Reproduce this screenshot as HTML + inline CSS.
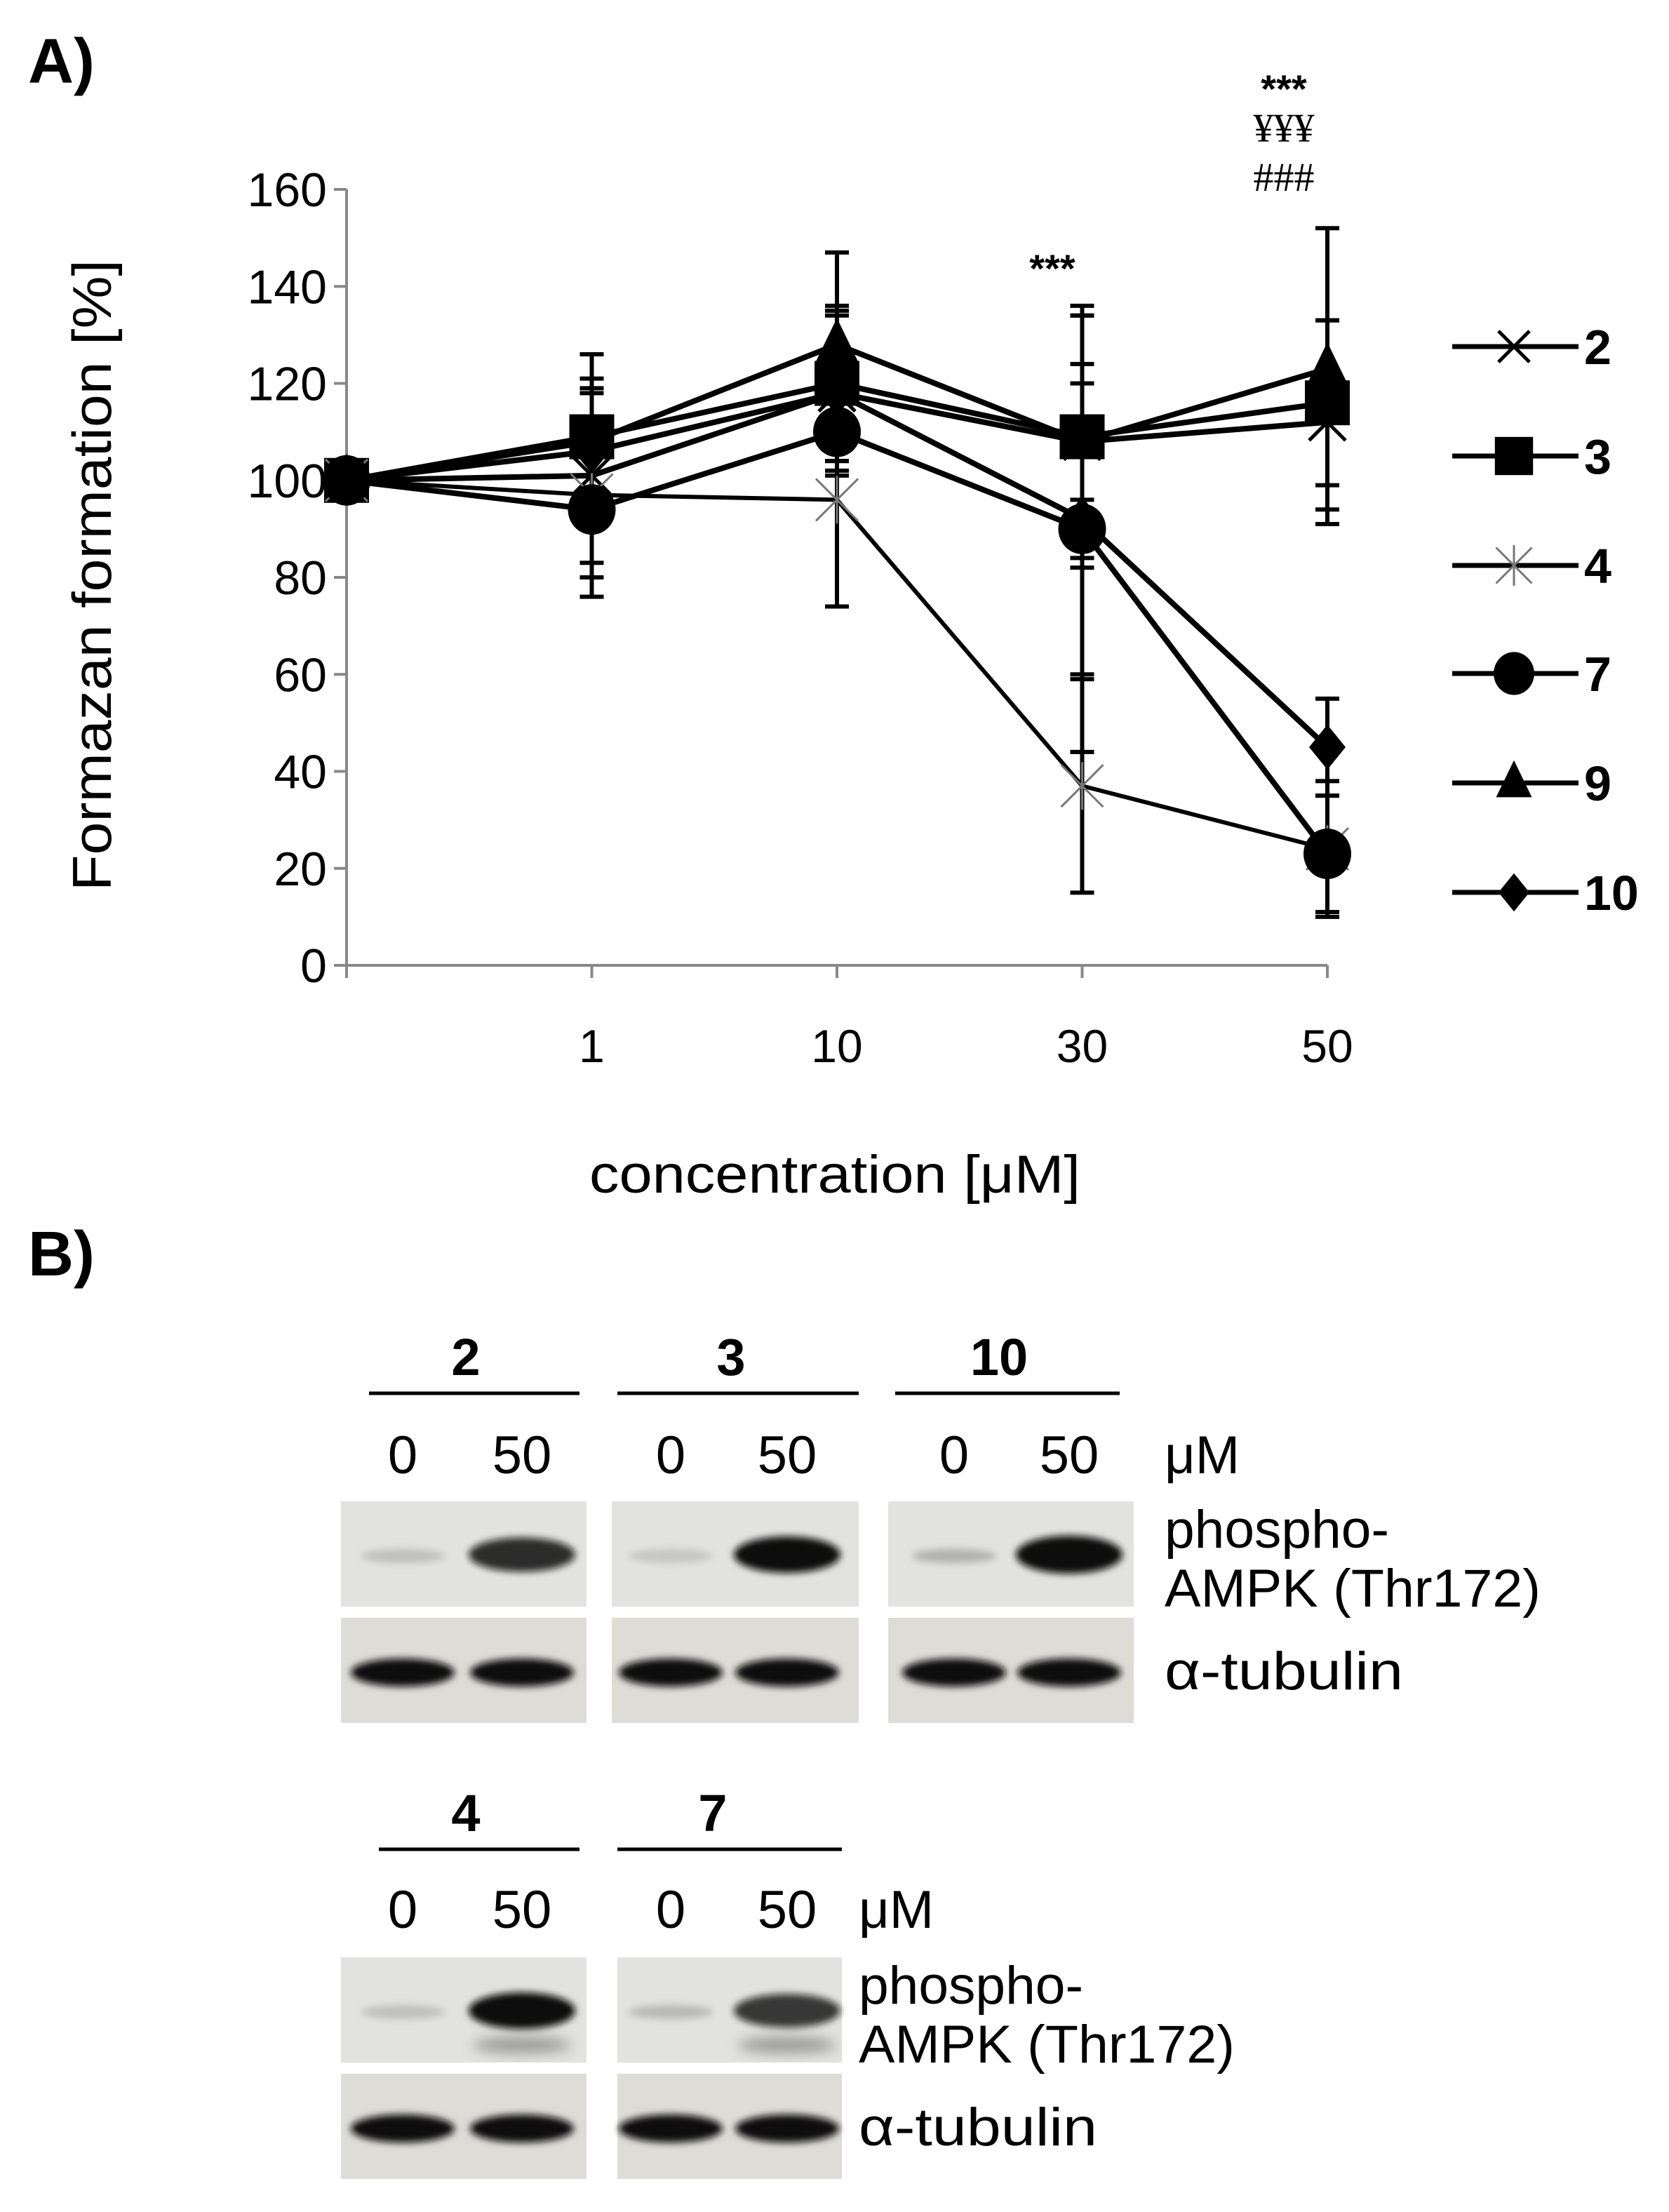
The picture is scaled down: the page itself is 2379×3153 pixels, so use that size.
<!DOCTYPE html>
<html><head><meta charset="utf-8"><style>
html,body{margin:0;padding:0;background:#fff}
svg{display:block}
text{font-family:"Liberation Sans",sans-serif}
</style></head><body>
<svg id="fig" width="2379" height="3153" viewBox="0 0 2379 3153" xmlns="http://www.w3.org/2000/svg">
<defs><filter id="blur" x="-20%" y="-50%" width="140%" height="200%"><feGaussianBlur stdDeviation="5"/></filter>
<filter id="blur2" x="-20%" y="-50%" width="140%" height="200%"><feGaussianBlur stdDeviation="9"/></filter></defs>
<text x="40" y="118" font-size="90" font-weight="bold">A)</text>
<g id="chart"></g>
<text x="840" y="1700" font-size="76" textLength="700" lengthAdjust="spacingAndGlyphs">concentration [μM]</text>
<text transform="translate(158,820) rotate(-90)" font-size="78" text-anchor="middle" textLength="900" lengthAdjust="spacingAndGlyphs">Formazan formation [%]</text>
<text x="1500" y="402" font-size="56" font-weight="bold" text-anchor="middle">***</text>
<text x="1830" y="146" font-size="56" font-weight="bold" text-anchor="middle">***</text>
<text x="1830" y="202" font-size="58" text-anchor="middle" style="font-family:'Liberation Serif',serif">¥¥¥</text>
<text x="1830" y="272" font-size="58" text-anchor="middle" style="font-family:'Liberation Serif',serif">###</text>

<text x="40" y="1818" font-size="90" font-weight="bold">B)</text>
<g id="blots"></g>
</svg>
<script>
const categories=["0","1","10","30","50"];
const yTicks=[0,20,40,60,80,100,120,140,160];
const seriesNames=["2","3","4","7","9","10"];
const s2=[100,101,118,108,112];
const s3=[100,109,120,109,116];
const s4=[100,97,96,37,24];
const s7=[100,94,110,90,23];
const s9=[100,108,128,108,123];
const s10=[100,106,118,92,45];
const e2=[0,18,16,12,21];
const e3=[0,17,16,25,17];
const e4=[0,21,22,22,14];
const e7=[0,14,6,46,12];
const e9=[0,18,19,26,29];
const e10=[0,15,17,32,10];

const NS="http://www.w3.org/2000/svg";
const chart=document.getElementById('chart');
const X0=494,XS=349.5,Y0=1376,YTOP=270;
const xs=i=>X0+i*XS;
const ys=v=>Y0-(v/160)*(Y0-YTOP);
function mk(tag,attrs,parent){const e=document.createElementNS(NS,tag);for(const k in attrs)e.setAttribute(k,attrs[k]);(parent||chart).appendChild(e);return e;}

const yax=mk('line',{x1:X0,y1:YTOP,x2:X0,y2:Y0,stroke:'#888','stroke-width':4});


const xax=mk('line',{x1:X0,y1:Y0,x2:xs(4),y2:Y0,stroke:'#888','stroke-width':4});


yTicks.forEach(t=>{
  const tk=mk('line',{x1:X0-18,y1:ys(t),x2:X0,y2:ys(t),stroke:'#888','stroke-width':4});
  
  
  const lb=mk('text',{x:X0-28,y:ys(t)+24,'font-size':68,'text-anchor':'end'});
  lb.textContent=t;
  
  
});
categories.forEach((c,i)=>{
  const tk=mk('line',{x1:xs(i),y1:Y0,x2:xs(i),y2:Y0+18,stroke:'#888','stroke-width':4});
  
  
  if(i>0){const lb=mk('text',{x:xs(i),y:1514,'font-size':66,'text-anchor':'middle'});
  lb.textContent=c;
  
  }
});

function marker(type,x,y,g,scale){
  const s=scale||1;
  if(type==='x'){mk('path',{d:`M${x-26*s} ${y-26*s}L${x+26*s} ${y+26*s}M${x-26*s} ${y+26*s}L${x+26*s} ${y-26*s}`,stroke:'#000','stroke-width':5},g);}
  else if(type==='square'){mk('rect',{x:x-32*s,y:y-32*s,width:64*s,height:64*s,fill:'#000'},g);}
  else if(type==='star'){mk('path',{d:`M${x-30*s} ${y-30*s}L${x+30*s} ${y+30*s}M${x-30*s} ${y+30*s}L${x+30*s} ${y-30*s}M${x} ${y-34*s}L${x} ${y+34*s}`,stroke:'#777','stroke-width':3},g);}
  else if(type==='circle'){mk('ellipse',{cx:x,cy:y,rx:34*s,ry:36*s,fill:'#000'},g);}
  else if(type==='triangle'){mk('path',{d:`M${x} ${y-38*s}L${x+30*s} ${y+24*s}L${x-30*s} ${y+24*s}Z`,fill:'#000'},g);}
  else if(type==='diamond'){mk('path',{d:`M${x} ${y-32*s}L${x+26*s} ${y}L${x} ${y+32*s}L${x-26*s} ${y}Z`,fill:'#000'},g);}
}
const series=[[s2,e2,'x',8],[s3,e3,'square',8],[s4,e4,'star',6],[s7,e7,'circle',8],[s9,e9,'triangle',8],[s10,e10,'diamond',8]];
series.forEach((s,k)=>{
  const g=mk('g',{});
  
  
  s[0].forEach((v,i)=>{ if(!s[1][i])return;
    const x=xs(i),a=ys(v+s[1][i]),b=ys(v-s[1][i]);
    mk('path',{d:`M${x} ${a}L${x} ${b}M${x-17} ${a}L${x+17} ${a}M${x-17} ${b}L${x+17} ${b}`,stroke:'#000','stroke-width':6,fill:'none'},g);
  });
});
series.forEach((s,k)=>{
  const g=mk('g',{});
  
  
  const pts=s[0].map((v,i)=>xs(i)+','+ys(v)).join(' ');
  mk('polyline',{points:pts,fill:'none',stroke:'#000','stroke-width':s[3],'stroke-linejoin':'round'},g);
  s[0].forEach((v,i)=>marker(s[2],xs(i),ys(v),g));
});
const legY=[494,650,806,960,1116,1272];
series.forEach((s,k)=>{
  const g=mk('g',{});
  
  
  mk('line',{x1:2070,y1:legY[k],x2:2250,y2:legY[k],stroke:'#000','stroke-width':7},g);
  marker(s[2],2158,legY[k],g,0.85);
  const t=mk('text',{x:2258,y:legY[k]+25,'font-size':70,'font-weight':'bold'},g);
  t.textContent=seriesNames[k];
});

const blots=document.getElementById('blots');
function bt(txt,x,y,size,opts,name){const t=mk('text',Object.assign({x:x,y:y,'font-size':size},opts||{}),blots);t.textContent=txt;return t;}
const groups=[
 {n:'2',cx:664,l:[526,826],row:0,px:486,pw:350,lanes:[574,744],p:[0.25,0.85]},
 {n:'3',cx:1042,l:[880,1224],row:0,px:872,pw:352,lanes:[956,1122],p:[0.2,1]},
 {n:'10',cx:1424,l:[1276,1596],row:0,px:1266,pw:350,lanes:[1360,1524],p:[0.35,1.1]},
 {n:'4',cx:664,l:[540,826],row:1,px:486,pw:350,lanes:[574,744],p:[0.25,1]},
 {n:'7',cx:1016,l:[880,1200],row:1,px:880,pw:320,lanes:[956,1122],p:[0.3,0.8]}
];
const rows=[{gy:1960,ly:1986,ny:2100,py:2140,ty:2306,mx:1660},{gy:2610,ly:2636,ny:2748,py:2790,ty:2956,mx:1224}];
groups.forEach(g=>{
  const r=rows[g.row];
  bt(g.n,g.cx,r.gy,74,{'font-weight':'bold','text-anchor':'middle'},'blot-group-label-'+g.n);
  const ln=mk('line',{x1:g.l[0],y1:r.ly,x2:g.l[1],y2:r.ly,stroke:'#000','stroke-width':5},blots);
  
  
  bt('0',g.lanes[0],r.ny,76,{'text-anchor':'middle'},'dose-label');
  bt('50',g.lanes[1],r.ny,76,{'text-anchor':'middle'},'dose-label');
  const pr=mk('rect',{x:g.px,y:r.py,width:g.pw,height:150,fill:'#e2e2e0'},blots);
  
  
  const tr=mk('rect',{x:g.px,y:r.ty,width:g.pw,height:150,fill:'#dddcd7'},blots);
  
  
  mk('ellipse',{cx:g.lanes[0],cy:r.py+78,rx:60,ry:10,fill:'#000',opacity:g.p[0]*0.6,filter:'url(#blur)'},blots);
  mk('ellipse',{cx:g.lanes[1],cy:r.py+76,rx:76,ry:16+10*g.p[1],fill:'#111',opacity:Math.min(1,g.p[1]),filter:'url(#blur)'},blots);
  if(g.row===1) mk('ellipse',{cx:g.lanes[1],cy:r.py+125,rx:70,ry:12,fill:'#555',opacity:0.5,filter:'url(#blur2)'},blots);
  g.lanes.forEach(lx=>mk('ellipse',{cx:lx,cy:r.ty+78,rx:74,ry:20,fill:'#111',filter:'url(#blur)'},blots));
});
rows.forEach((r,i)=>{
  bt('μM',r.mx,r.ny,76,{},'unit-label');
  bt('phospho-',r.mx,r.py+66,76,{textLength:320,lengthAdjust:'spacingAndGlyphs'},'phospho-label');
  bt('AMPK (Thr172)',r.mx,r.py+150,76,{textLength:536,lengthAdjust:'spacingAndGlyphs'},'ampk-label');
  bt('α-tubulin',r.mx,r.ty+102,76,{textLength:340,lengthAdjust:'spacingAndGlyphs'},'tubulin-label');
});
</script>
</body></html>
